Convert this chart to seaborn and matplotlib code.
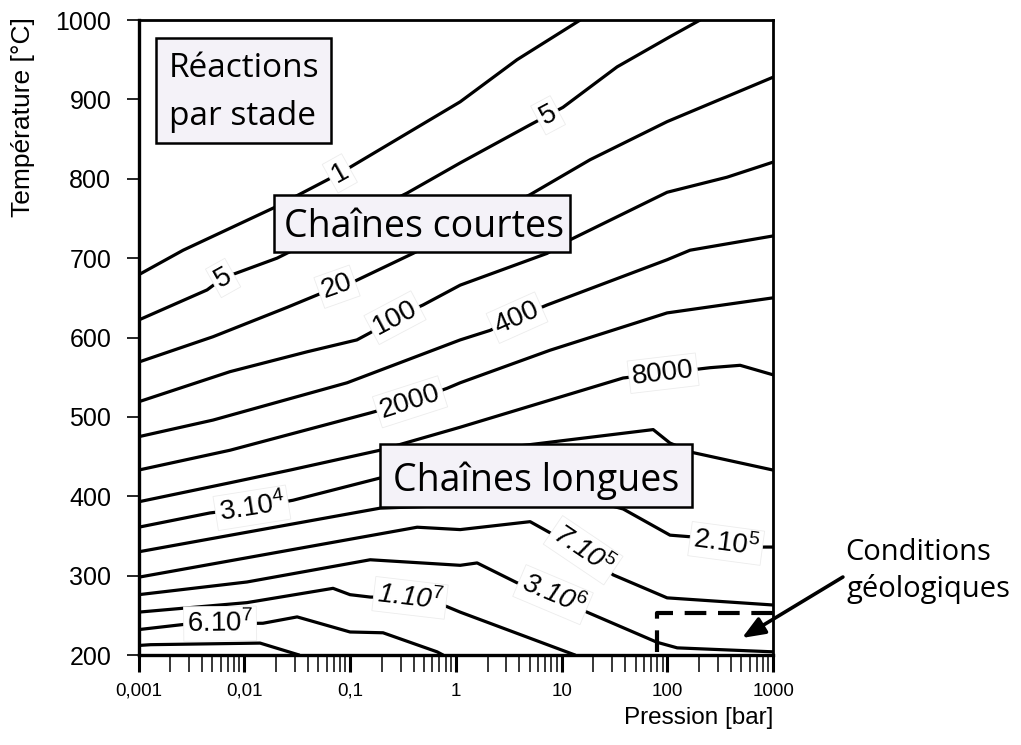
import numpy as np
import pandas as pd
import matplotlib
matplotlib.use("Agg")
import matplotlib.pyplot as plt
from matplotlib.patches import Rectangle
from matplotlib.ticker import FixedLocator, FixedFormatter, LogLocator, NullFormatter
import seaborn as sns

# Iso-lines of the number of reactions per stage
# pressure in bar, temperature in °C
p_1 = [0.001, 0.00264, 0.0187, 0.0804, 1.10, 3.79, 15.0]
t_1 = [679, 710, 763, 807, 897, 950, 1000]

p_5 = [0.001, 0.00445, 0.0063, 0.0204, 0.346, 1.10, 5.04, 7.45, 10.3, 33.5, 106, 204]
t_5 = [622, 660, 675, 700, 782, 820, 868, 880, 890, 941, 979, 1000]

p_20 = [0.001, 0.00506, 0.0254, 0.0753, 0.107, 0.394, 5.04, 18.6, 99.5, 1000]
t_20 = [569, 601, 638, 664, 670, 706, 780, 824, 872, 928]

p_100 = [0.001, 0.00733, 0.0392, 0.116, 0.155, 0.266, 0.490, 1.10, 7.29, 12.0, 99.5, 367, 1000]
t_100 = [519, 557, 582, 597, 606, 625, 641, 666, 706, 723, 783, 802, 821]

p_400 = [0.001, 0.00506, 0.0938, 1.10, 2.11, 3.79, 7.29, 99.5, 164, 1000]
t_400 = [475, 496, 543, 597, 609, 625, 641, 698, 710, 728]

p_2000 = [0.001, 0.00733, 0.155, 0.369, 0.826, 1.10, 7.78, 99.5, 1000]
t_2000 = [433, 458, 505, 519, 536, 543, 584, 631, 650]

p_8000 = [0.001, 0.00733, 0.0271, 0.192, 1.10, 38.2, 91.2, 254, 488, 1000]
t_8000 = [393, 417, 433, 458, 487, 549, 555, 562, 565, 553]

p_3e4 = [0.001, 0.00474, 0.0113, 0.0289, 0.192, 3.26, 73.5, 106, 175, 1000]
t_3e4 = [361, 379, 385, 395, 423, 462, 484, 467, 455, 433]

p_2e5 = [0.001, 0.192, 18.6, 38.2, 106, 164, 337, 753, 1000]
t_2e5 = [330, 385, 395, 384, 351, 349, 341, 336, 336]

p_7e5 = [0.001, 0.431, 1.10, 5.04, 7.78, 16.0, 30.7, 99.5, 1000]
t_7e5 = [298, 361, 358, 368, 354, 332, 301, 272, 263]

p_3e6 = [0.001, 0.0106, 0.155, 1.10, 1.59, 3.79, 8.32, 17.4, 80.0, 124, 1000]
t_3e6 = [276, 292, 320, 313, 316, 291, 276, 254, 216, 209, 204]

p_1e7 = [0.001, 0.0106, 0.069, 0.1, 0.155, 0.369, 0.757, 1.10, 13.4]
t_1e7 = [254, 266, 284, 276, 273, 272, 263, 254, 200]

p_6e7 = [0.001, 0.00288, 0.0150, 0.0316, 0.1, 0.205, 0.665, 0.757]
t_6e7 = [232, 239, 240, 248, 229, 228, 204, 200]

p_low = [0.001, 0.0013, 0.0141, 0.033]
t_low = [212, 213, 215, 200]

levels = {
    "1": (p_1, t_1), "5": (p_5, t_5), "20": (p_20, t_20), "100": (p_100, t_100),
    "400": (p_400, t_400), "2000": (p_2000, t_2000), "8000": (p_8000, t_8000),
    "3e4": (p_3e4, t_3e4), "2e5": (p_2e5, t_2e5), "7e5": (p_7e5, t_7e5),
    "3e6": (p_3e6, t_3e6), "1e7": (p_1e7, t_1e7), "6e7": (p_6e7, t_6e7),
    "low": (p_low, t_low),
}

# Inline labels: text, iso-line, pressure position, italic
label_text = ["1", "5", "5", "20", "100", "400", "2000", "8000",
              "3.10$^{4}$", "2.10$^{5}$", r"7.10$^{\mathit{5}}$",
              r"3.10$^{\mathit{6}}$", r"1.10$^{\mathit{7}}$", "6.10$^{7}$"]
label_level = ["1", "5", "5", "20", "100", "400", "2000", "8000",
               "3e4", "2e5", "7e5", "3e6", "1e7", "6e7"]
label_p = [0.080, 0.0063, 7.45, 0.0753, 0.266, 3.79, 0.369, 91.2,
           0.0118, 360, 16.0, 8.3, 0.369, 0.0059]
label_italic = [False] * 10 + [True, True, True, False]

x_ticks = [0.001, 0.01, 0.1, 1, 10, 100, 1000]
x_ticklabels = ["0,001", "0,01", "0,1", "1", "10", "100", "1000"]
y_ticks = [200, 300, 400, 500, 600, 700, 800, 900, 1000]

# Geological conditions window
geo_p = [1000, 80, 80]
geo_t = [253, 253, 200]

sns.set_theme(style="white", rc={"axes.edgecolor": "black", "xtick.color": "black",
                                 "ytick.color": "black", "text.color": "black",
                                 "axes.labelcolor": "black"})
plt.rcParams["font.family"] = ["Liberation Sans", "DejaVu Sans"]
plt.rcParams["mathtext.fontset"] = "custom"
plt.rcParams["mathtext.rm"] = "Liberation Sans"
plt.rcParams["mathtext.it"] = "Liberation Sans:italic"

SANS = ["Liberation Sans", "DejaVu Sans"]
BOXFONT = ["Open Sans", "DejaVu Sans"]
BOXFILL = "#f4f2f8"

fig = plt.figure(figsize=(10.21, 7.45), dpi=100)
ax = fig.add_axes([0.1357, 0.1208, 0.6215, 0.8523])

df = pd.concat(
    [pd.DataFrame({"P": p, "T": t, "level": name}) for name, (p, t) in levels.items()],
    ignore_index=True,
)
sns.lineplot(data=df, x="P", y="T", units="level", estimator=None, sort=False,
             color="black", linewidth=2.3, legend=False, ax=ax, zorder=2)

ax.set_xscale("log")
ax.set_xlim(1e-3, 1e3)
ax.set_ylim(200, 1000)

# geological window
ax.plot(geo_p, geo_t, color="black", lw=3.0, ls=(0, (5.2, 2.8)), zorder=3,
        solid_capstyle="butt")

# inline iso-line labels, rotated along the local direction of the line
def temp_on_line(name, p):
    pp, tt = levels[name]
    return np.interp(np.log10(p), np.log10(pp), tt)

fig.canvas.draw()
for txt, name, p, it in zip(label_text, label_level, label_p, label_italic):
    t = temp_on_line(name, p)
    lp = np.log10(p)
    pa, pb = 10 ** (lp - 0.08), 10 ** (lp + 0.08)
    a = ax.transData.transform((pa, temp_on_line(name, pa)))
    b = ax.transData.transform((pb, temp_on_line(name, pb)))
    ang = np.degrees(np.arctan2(b[1] - a[1], b[0] - a[0]))
    ax.text(p, t, txt, rotation=ang, rotation_mode="anchor", ha="center", va="center",
            fontsize=20, family=SANS, style="italic" if it else "normal", zorder=4,
            bbox=dict(boxstyle="square,pad=0.12", fc="white", ec="#ececec", lw=0.6))

# region boxes
def region_box(x0, y0, x1, y1):
    ax.add_patch(Rectangle((x0, y0), x1 - x0, y1 - y0, transform=ax.transAxes,
                           fc=BOXFILL, ec="black", lw=1.8, zorder=5, clip_on=False))

region_box(0.0276, 0.8063, 0.3034, 0.9717)
ax.text(0.0481, 0.9102, "Réactions", transform=ax.transAxes, ha="left", va="baseline",
        fontsize=24, family=BOXFONT, zorder=6)
ax.text(0.0481, 0.8346, "par stade", transform=ax.transAxes, ha="left", va="baseline",
        fontsize=24, family=BOXFONT, zorder=6)

region_box(0.2136, 0.6346, 0.6801, 0.7244)
ax.text(0.4492, 0.6583, "Chaînes courtes", transform=ax.transAxes, ha="center",
        va="baseline", fontsize=27, family=BOXFONT, zorder=6)

region_box(0.3806, 0.2331, 0.8723, 0.3323)
ax.text(0.6273, 0.2583, "Chaînes longues", transform=ax.transAxes, ha="center",
        va="baseline", fontsize=27, family=BOXFONT, zorder=6)

# pointer towards the geological window
ax.annotate("", xy=(0.951, 0.0268), xycoords="axes fraction",
            xytext=(1.110, 0.1228), textcoords="axes fraction",
            arrowprops=dict(arrowstyle="-|>,head_length=0.55,head_width=0.22",
                            lw=2.6, color="black", mutation_scale=25,
                            shrinkA=0, shrinkB=0),
            annotation_clip=False, zorder=6)
fig.text(918 / 1021, 1 - 560 / 745, "Conditions", ha="center", va="baseline",
         fontsize=21, family=BOXFONT)
fig.text(928 / 1021, 1 - 597 / 745, "géologiques", ha="center", va="baseline",
         fontsize=21, family=BOXFONT)

# axes
ax.xaxis.set_major_locator(FixedLocator(x_ticks))
ax.xaxis.set_major_formatter(FixedFormatter(x_ticklabels))
ax.xaxis.set_minor_locator(LogLocator(base=10, subs=np.arange(2, 10)))
ax.xaxis.set_minor_formatter(NullFormatter())
ax.set_yticks(y_ticks)
ax.set_yticklabels([str(v) for v in y_ticks])

ax.tick_params(axis="x", which="major", direction="out", length=12, width=2.2,
               pad=8, labelsize=13.5, bottom=True)
ax.tick_params(axis="x", which="minor", direction="out", length=12, width=1.1, bottom=True)
ax.tick_params(axis="y", which="major", direction="out", length=8.6, width=1.2,
               pad=11, labelsize=18, left=True)

for side in ["left", "bottom"]:
    ax.spines[side].set_linewidth(2.4)
for side in ["top", "right"]:
    ax.spines[side].set_linewidth(2.0)
for s in ax.spines.values():
    s.set_color("black")
    s.set_zorder(7)

ax.set_xlabel("Pression [bar]", fontsize=17.5)
ax.xaxis.set_label_coords(1.0, -0.099)
ax.xaxis.label.set_ha("right")
ax.xaxis.label.set_va("center")
ax.set_ylabel("Température [°C]", fontsize=19)
ax.yaxis.set_label_coords(-0.182, 0.847)
ax.yaxis.label.set_va("center")
ax.yaxis.label.set_ha("center")

fig.savefig("out.png", dpi=100, facecolor="white")
